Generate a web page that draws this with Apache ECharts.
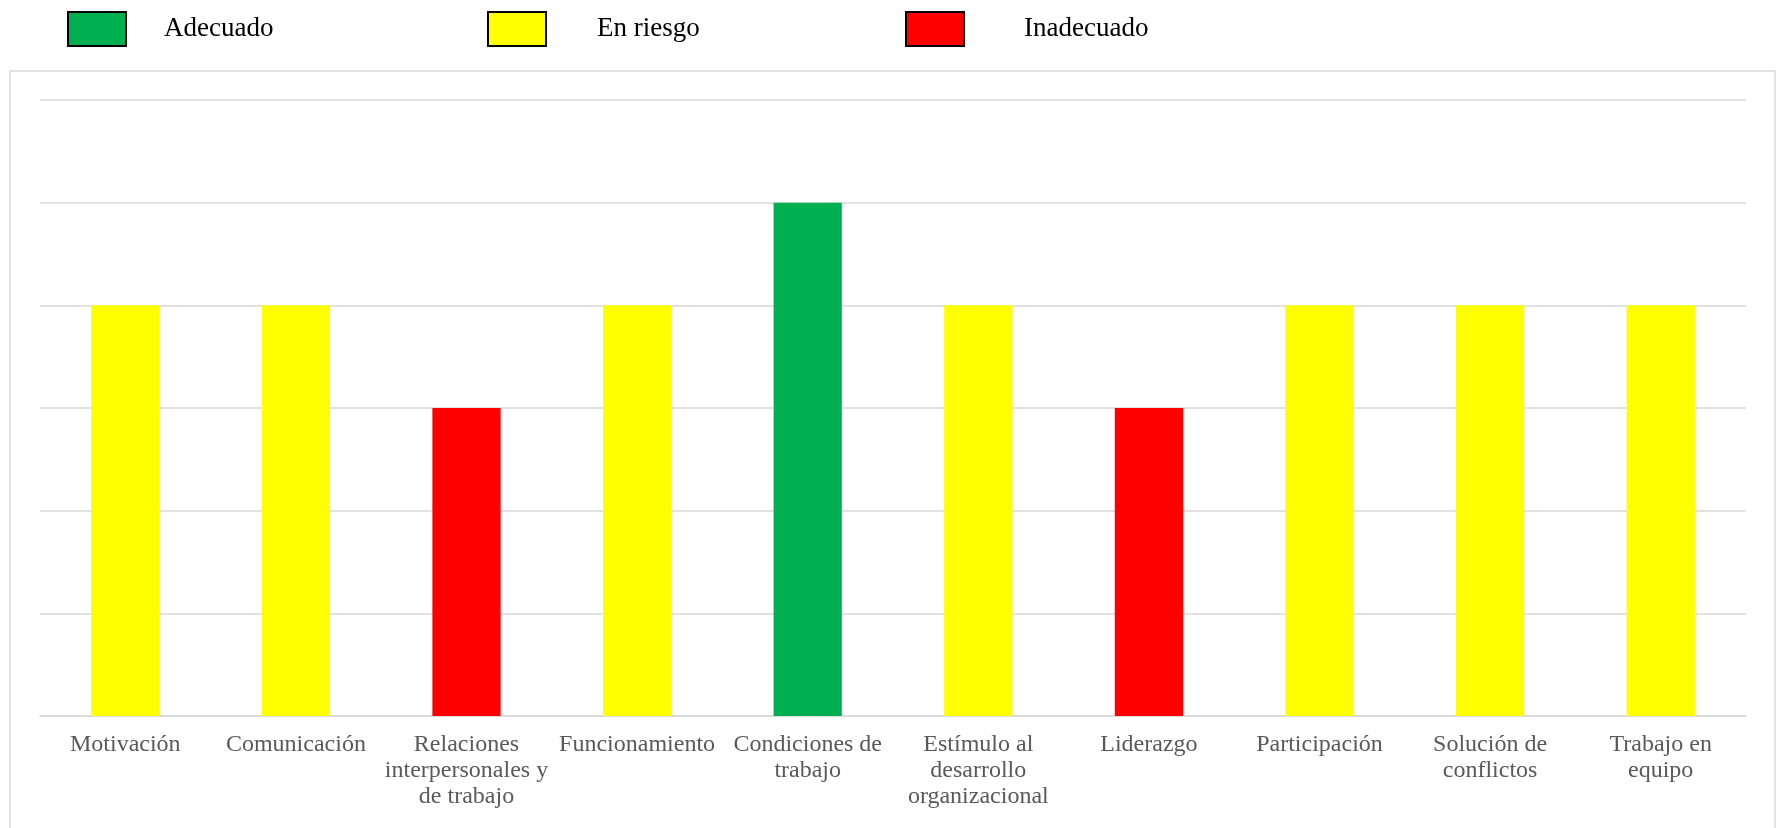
<!DOCTYPE html>
<html>
<head>
<meta charset="utf-8">
<style>
  html, body { margin: 0; padding: 0; background: #fff; }
  #chart { width: 1781px; height: 828px; }
</style>
<script src="https://cdn.jsdelivr.net/npm/echarts@6/dist/echarts.min.js"></script>
</head>
<body>
<div id="chart"></div>
<script>
// Dimensions of the work climate and their score / status
const categories = [
  'Motivación',
  'Comunicación',
  'Relaciones\ninterpersonales y\nde trabajo',
  'Funcionamiento',
  'Condiciones de\ntrabajo',
  'Estímulo al\ndesarrollo\norganizacional',
  'Liderazgo',
  'Participación',
  'Solución de\nconflictos',
  'Trabajo en\nequipo'
];
const values = [4, 4, 3, 4, 5, 4, 3, 4, 4, 4];
const statuses = ['En riesgo', 'En riesgo', 'Inadecuado', 'En riesgo', 'Adecuado',
                  'En riesgo', 'Inadecuado', 'En riesgo', 'En riesgo', 'En riesgo'];
const statusNames = ['Adecuado', 'En riesgo', 'Inadecuado'];
const statusColors = ['#00B050', '#FFFF00', '#FF0000'];

const chart = echarts.init(document.getElementById('chart'));

// one stacked series per status so each bar stays centred on its category
const series = statusNames.map((name, i) => ({
  name: name,
  type: 'bar',
  stack: 'total',
  barWidth: '40%',
  itemStyle: { color: statusColors[i] },
  emphasis: { disabled: true },
  data: values.map((v, k) => statuses[k] === name ? v : '-')
}));

// legend entries are placed individually across the top
const legendLeft = [67, 487, 905];
const legendTextGap = [33, 46, 55];
const legends = statusNames.map((name, i) => ({
  data: [name],
  left: legendLeft[i],
  top: 11,
  padding: 0,
  icon: 'rect',
  itemWidth: 58,
  itemHeight: 34,
  selectedMode: false,
  itemStyle: { borderColor: '#000', borderWidth: 2 },
  textStyle: {
    fontFamily: 'Liberation Serif',
    fontSize: 27,
    color: '#000',
    padding: [0, 0, 0, legendTextGap[i]]
  }
}));

chart.setOption({
  animation: false,
  backgroundColor: '#fff',
  legend: legends,
  graphic: [{
    type: 'rect',
    shape: { x: 10, y: 71, width: 1765, height: 800 },
    style: { fill: 'none', stroke: '#d9d9d9', lineWidth: 1.5 },
    silent: true
  }],
  grid: { left: 40, right: 35, top: 100, bottom: 112 },
  xAxis: {
    type: 'category',
    data: categories,
    axisTick: { show: false },
    axisLine: { lineStyle: { color: '#d9d9d9', width: 1.5 } },
    axisLabel: {
      interval: 0,
      margin: 16,
      color: '#595959',
      fontFamily: 'Liberation Serif',
      fontSize: 24,
      lineHeight: 26
    }
  },
  yAxis: {
    type: 'value',
    min: 0,
    max: 6,
    interval: 1,
    axisLabel: { show: false },
    axisLine: { show: false },
    axisTick: { show: false },
    splitLine: { lineStyle: { color: '#d9d9d9', width: 1.5 } }
  },
  series: series
});
</script>
</body>
</html>
